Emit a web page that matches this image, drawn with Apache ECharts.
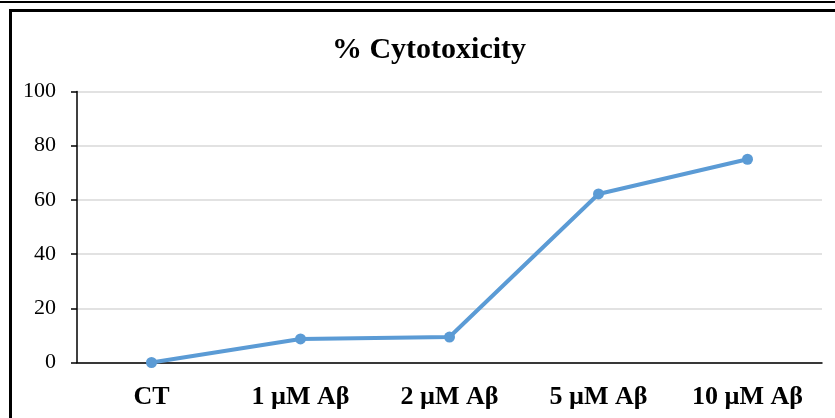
<!DOCTYPE html>
<html>
<head>
<meta charset="utf-8">
<script src="https://cdn.jsdelivr.net/npm/echarts@6/dist/echarts.min.js"></script>
<style>
  html, body { margin: 0; padding: 0; background: #fff; }
  #chart { width: 835px; height: 418px; }
</style>
</head>
<body>
<div id="chart"></div>
<script>
// Cytotoxicity by amyloid-beta concentration
const categories = ['CT', '1 \u00b5M A\u03b2', '2 \u00b5M A\u03b2', '5 \u00b5M A\u03b2', '10 \u00b5M A\u03b2'];
const cytotoxicity = [0, 8.7, 9.4, 62.2, 75.0];
const yTicks = { min: 0, max: 100, interval: 20 };

const serif = '"Liberation Serif", "Times New Roman", serif';
const lineColor = '#5B9BD5';

const chart = echarts.init(document.getElementById('chart'), null, { renderer: 'canvas' });
chart.setOption({
  backgroundColor: '#fff',
  animation: false,
  title: {
    text: '% Cytotoxicity',
    left: 424,
    top: 30,
    textAlign: 'center',
    textStyle: { fontFamily: serif, fontWeight: 'bold', fontSize: 30, color: '#000' }
  },
  grid: { left: 77, right: 13, top: 91.5, bottom: 55.5 },
  xAxis: {
    type: 'category',
    data: categories,
    boundaryGap: true,
    axisLine: { show: true, lineStyle: { color: '#000', width: 1.5 } },
    axisTick: { show: false },
    axisLabel: {
      margin: 22,
      fontFamily: serif, fontWeight: 'bold', fontSize: 26, color: '#000'
    }
  },
  yAxis: {
    type: 'value',
    min: yTicks.min, max: yTicks.max, interval: yTicks.interval,
    axisLine: { show: true, lineStyle: { color: '#000', width: 1.5 } },
    axisTick: { show: true, length: 6, lineStyle: { color: '#000', width: 1.5 } },
    axisLabel: { margin: 21, fontFamily: serif, fontSize: 22, color: '#000' },
    splitLine: { show: true, lineStyle: { color: '#d9d9d9', width: 1.5 } }
  },
  series: [{
    type: 'line',
    data: cytotoxicity,
    symbol: 'circle',
    symbolSize: 11,
    lineStyle: { color: lineColor, width: 4 },
    itemStyle: { color: lineColor },
    z: 3
  }],
  graphic: [
    { type: 'line', shape: { x1: 0, y1: 2, x2: 835, y2: 2 }, style: { stroke: '#000', lineWidth: 2 } },
    { type: 'line', shape: { x1: 9, y1: 10.5, x2: 835, y2: 10.5 }, style: { stroke: '#000', lineWidth: 3 } },
    { type: 'line', shape: { x1: 10.5, y1: 9, x2: 10.5, y2: 418 }, style: { stroke: '#000', lineWidth: 3 } }
  ]
});
</script>
</body>
</html>
